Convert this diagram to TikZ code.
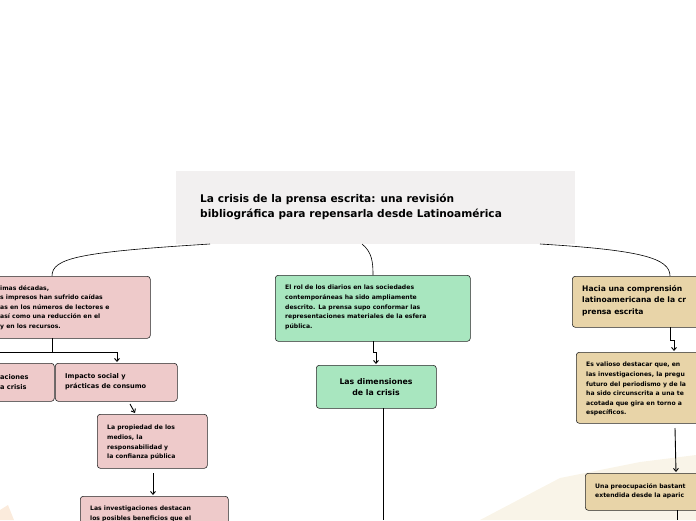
\documentclass[tikz,border=0pt]{standalone}
\usepackage{fontspec}
\setmainfont{DejaVu Sans}
\usetikzlibrary{arrows.meta}
\definecolor{pinkf}{HTML}{EECACA}
\definecolor{greenf}{HTML}{A8E6BF}
\definecolor{tanf}{HTML}{E8D4A8}
\definecolor{titlef}{HTML}{F2F0F0}
\definecolor{creamf}{HTML}{F9F4E8}
\definecolor{orf}{HTML}{FBEBDC}
\tikzset{
 box/.style={draw=black!85,line width=0.6pt,rounded corners=3pt,anchor=north west,inner sep=0pt},
 txt/.style={anchor=north west,align=left,font=\bfseries\fontsize{6.1}{9.6}\selectfont,inner sep=0pt},
 mtxt/.style={anchor=north west,align=left,font=\bfseries\fontsize{7.6}{11.5}\selectfont,inner sep=0pt},
 con/.style={line width=0.9pt,-{Straight Barb[length=3pt,width=5pt]}},
 lnk/.style={line width=0.6pt}
}
\begin{document}
\begin{tikzpicture}[x=1pt,y=-1pt]
\useasboundingbox (0,0) rectangle (696,520);
\fill[creamf] (480,520) -- (560,478) -- (640,462) -- (696,455) -- (696,520) -- cycle;
\fill[orf] (0,510) -- (8,505) -- (14,520) -- (0,520) -- cycle;
% title
\node[box,draw=none,fill=titlef,minimum width=399pt,minimum height=73pt,rounded corners=0pt] (title) at (176,171) {};
\node[anchor=north west,align=left,inner sep=0pt,font=\bfseries\fontsize{10.6}{14.5}\selectfont] (tt) at (200,194) {La crisis de la prensa escrita: una revisión\\bibliográfica para repensarla desde Latinoamérica};
% left
\node[box,fill=pinkf,minimum width=160pt,minimum height=62pt] (L1) at (-10,276) {};
\node[txt] (L1t) at (0,285) {imas décadas,\\s impresos han sufrido caídas\\as en los números de lectores e\\ así como una reducción en el\\y en los recursos.};
\node[box,fill=pinkf,minimum width=64pt,minimum height=38pt] (L2) at (-10,363) {};
\node[mtxt,font=\bfseries\fontsize{6.6}{10}\selectfont] (L2t) at (0,374) {aciones\\a crisis};
\node[box,fill=pinkf,minimum width=122pt,minimum height=38pt] (L3) at (55,363) {};
\node[mtxt,font=\bfseries\fontsize{6.6}{10}\selectfont] (L3t) at (65,373) {Impacto social y\\prácticas de consumo};
\node[box,fill=pinkf,minimum width=110pt,minimum height=54pt] (L4) at (97,414) {};
\node[txt] (L4t) at (107,425) {La propiedad de los\\medios, la\\responsabilidad y\\la confianza pública};
\node[box,fill=pinkf,minimum width=148pt,minimum height=40pt] (L5) at (80,496) {};
\node[txt] (L5t) at (90,506) {Las investigaciones destacan\\los posibles beneficios que el};
% middle
\node[box,fill=greenf,minimum width=195pt,minimum height=66pt] (M1) at (275,275) {};
\node[txt] (M1t) at (285,285) {El rol de los diarios en las sociedades\\contemporáneas ha sido ampliamente\\descrito. La prensa supo conformar las\\representaciones materiales de la esfera\\pública.};
\node[box,fill=greenf,minimum width=120pt,minimum height=43pt] (M2) at (316,365) {};
\node[align=center,inner sep=0pt,font=\bfseries\fontsize{7.8}{11}\selectfont] (M2t) at (376,387) {Las dimensiones\\de la crisis};
% right
\node[box,fill=tanf,minimum width=140pt,minimum height=51pt] (R1) at (572,276) {};
\node[mtxt] (R1t) at (582,285) {Hacia una comprensión\\latinoamericana de la cr\\prensa escrita};
\node[box,fill=tanf,minimum width=140pt,minimum height=71pt] (R2) at (576,352) {};
\node[txt] (R2t) at (586,362) {Es valioso destacar que, en\\las investigaciones, la pregu\\futuro del periodismo y de la\\ha sido circunscrita a una te\\acotada que gira en torno a\\específicos.};
\node[box,fill=tanf,minimum width=130pt,minimum height=37pt] (R3) at (585,473) {};
\node[txt] (R3t) at (595,483) {Una preocupación bastant\\extendida desde la aparic};
% connectors from title
\draw[lnk] (210,244) .. controls (80,252) and (52,258) .. (52,276);
\draw[lnk] (362,244) .. controls (372,252) and (373,262) .. (373,275);
\draw[lnk] (540,244) .. controls (640,250) and (670,258) .. (670,276);
% left tree
\coordinate (j1) at (52,352);
\draw[line width=0.9pt] (52,338) -- (j1);
\draw[line width=0.9pt] (0,352) -- (117,352);
\draw[con] (117,352) -- (117,362);
\draw[con] (130,404) -- (135,413);
\draw[con] (153,473) -- (153,495);
% middle
\draw[con] (373,341) -- (373,352) -- (376,352) -- (376,364);
\draw[line width=0.9pt] (383,408) -- (383,520);
% right
\draw[con] (670,327) -- (670,340) -- (674,340) -- (674,351);
\draw[con] (675,428) -- (676,472);
\draw[line width=0.9pt] (677,510) -- (677,520);
\end{tikzpicture}
\end{document}
